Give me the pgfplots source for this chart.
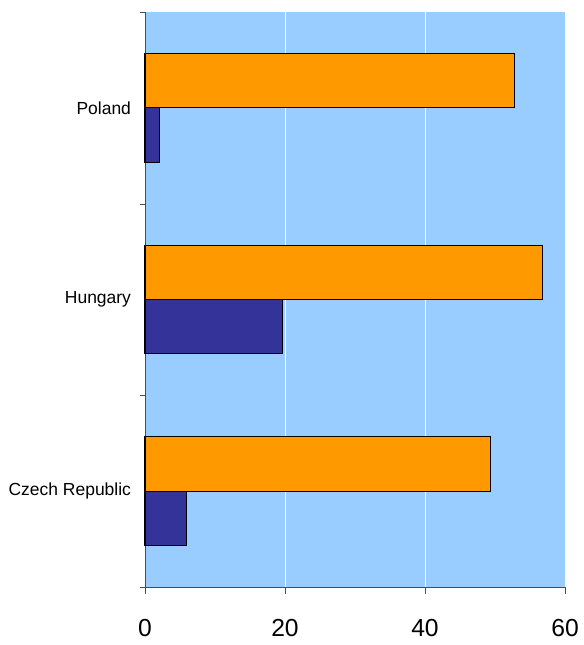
\documentclass[border=0pt]{standalone}
\usepackage{pgfplots}
\pgfplotsset{compat=1.18}
\usepackage{fontspec}
\setmainfont{Liberation Sans}
\definecolor{bgblue}{HTML}{99CCFF}
\definecolor{barorange}{HTML}{FF9900}
\definecolor{barnavy}{HTML}{333399}
\begin{document}
\begin{tikzpicture}
\useasboundingbox (0,0) rectangle (438pt,483.75pt);
\begin{axis}[
  at={(108.75pt,43.5pt)}, anchor=south west,
  scale only axis, width=315pt, height=431.25pt,
  xbar, bar width=0.284,
  xmin=0, xmax=60, ymin=-0.5, ymax=2.5,
  axis x line=bottom, axis y line=left,
  axis line style={draw=black!70, -},
  axis background/.style={fill=bgblue},
  xtick={0,20,40,60},
  ytick={0,1,2},
  yticklabels={Czech Republic, Hungary, Poland},
  minor ytick={-0.5,0.5,1.5,2.5},
  tick align=outside,
  major x tick style={black!70},
  major tick length=5pt,
  minor tick length=4pt,
  minor y tick style={black!70},
  major y tick style={draw=none},
  xmajorgrids, grid style={white, line width=0.6pt},
  /pgf/number format/assume math mode=true,
  xticklabel style={font=\fontsize{18.5}{20}\selectfont, yshift=-16pt},
  yticklabel style={font=\fontsize{13.1}{15}\selectfont, xshift=-2pt},
  clip=false,
]
\addplot[fill=barorange, draw=black, line width=0.8pt, bar shift=0.142] coordinates {(49.4,0) (56.8,1) (52.8,2)};
\addplot[fill=barnavy, draw=black, line width=0.8pt, bar shift=-0.142] coordinates {(5.9,0) (19.7,1) (2.1,2)};
\end{axis}
\end{tikzpicture}
\end{document}
